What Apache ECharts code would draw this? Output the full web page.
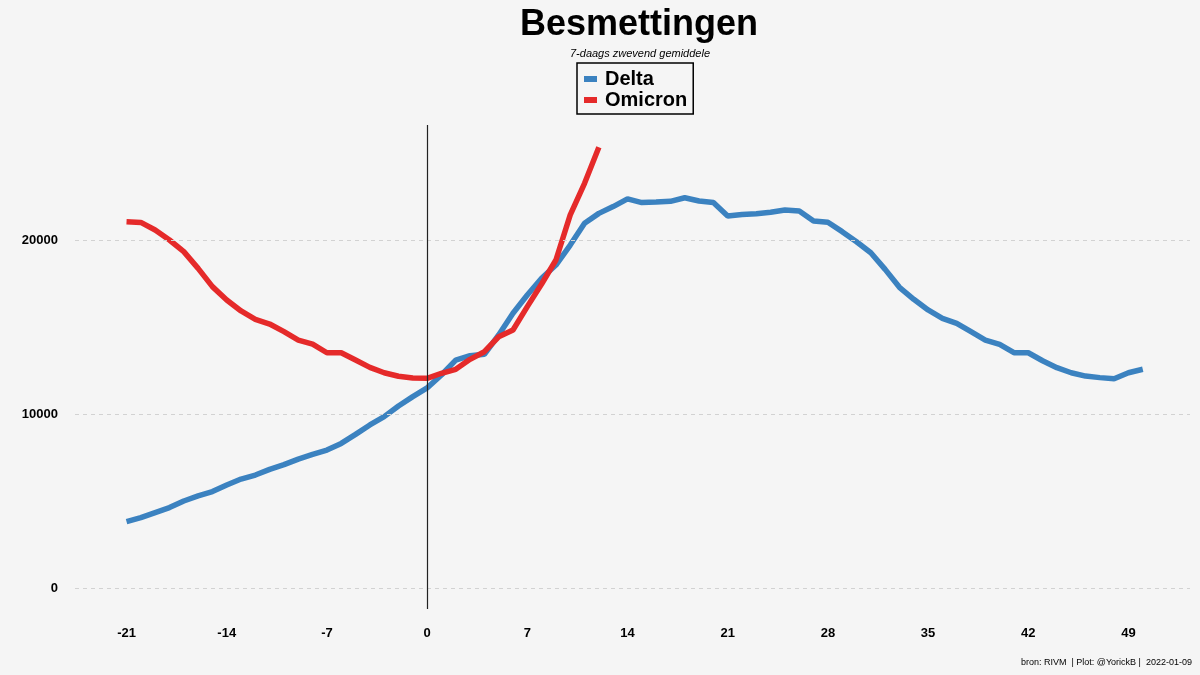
<!DOCTYPE html>
<html><head><meta charset="utf-8">
<script src="https://cdn.jsdelivr.net/npm/echarts@6/dist/echarts.min.js"></script>
<style>html,body{margin:0;padding:0;background:#f5f5f5}#c{width:1200px;height:675px}</style>
</head><body><div id="c"></div>
<script>
const days = [];
for (let d = -21; d <= 50; d++) days.push(d);
const delta = [3810,4040,4330,4620,5000,5290,5540,5920,6260,6490,6820,7090,7410,7680,7930,8310,8830,9370,9850,10460,11000,11500,
  12240,13100,13350,13430,14540,15790,16840,17800,18560,19710,20960,21530,21920,22360,22150,22180,22220,22430,22240,22150,21380,21470,21510,
  21590,21720,21670,21090,21020,20480,19900,19270,18310,17280,16590,15980,15500,15210,14730,14250,14000,13520,13520,13060,12660,12370,12180,12090,12030,12370,12570];
const omicron = [21050,21010,20575,20000,19330,18370,17320,16550,15920,15440,15170,14730,14250,14020,13520,13520,13100,12680,12370,12170,12070,12050,
  12340,12570,13140,13580,14440,14830,16170,17470,18850,21440,23260,25330];
const xTicks = [-21,-14,-7,0,7,14,21,28,35,42,49];
const yTicks = [0,10000,20000];
const title = 'Besmettingen';
const subtitle = '7-daags zwevend gemiddele';
const footer = 'bron: RIVM  | Plot: @YorickB |  2022-01-09';

const deltaData = days.map((d,i)=>[d, delta[i]]).filter(p=>p[1]!=null);
const omiData = omicron.map((v,i)=>[days[i], v]);

const chart = echarts.init(document.getElementById('c'));
chart.setOption({
  backgroundColor:'#f5f5f5',
  animation:false,
  title:[
    {text:title,left:634,textAlign:'center',top:2,textStyle:{fontFamily:'Liberation Sans',fontWeight:'bold',fontSize:36,color:'#000'}},
    {text:subtitle,left:635,textAlign:'center',top:43,textStyle:{fontFamily:'Liberation Sans',fontStyle:'italic',fontWeight:'normal',fontSize:11,color:'#000'}},
    {text:footer,right:3,bottom:3,textStyle:{fontFamily:'Liberation Sans',fontWeight:'normal',fontSize:9,color:'#000'}}
  ],
  legend:{
    data:['Delta','Omicron'],
    orient:'vertical',
    left:577, top:63,
    padding:[6,6,4,7],
    itemGap:1,
    itemWidth:13, itemHeight:6,
    borderColor:'#000', borderWidth:1.5, borderRadius:0,
    backgroundColor:'#f5f5f5',
    icon:'rect',
    textStyle:{fontFamily:'Liberation Sans',fontWeight:'bold',fontSize:20,color:'#000',padding:[0,0,0,3]}
  },
  grid:{left:75,right:10,top:125,bottom:66,containLabel:false},
  xAxis:{
    type:'value', min:-24.6, max:53.3,
    axisLine:{show:false}, axisTick:{show:false}, splitLine:{show:false},
    axisLabel:{customValues:xTicks, margin:18, formatter:v=>String(v), fontFamily:'Liberation Sans', fontWeight:'bold', fontSize:13, color:'#000'}
  },
  yAxis:{
    type:'value', min:-1207, max:26609,
    axisLine:{show:false}, axisTick:{show:false}, splitLine:{show:false},
    axisLabel:{customValues:yTicks, margin:17, formatter:v=>String(v), fontFamily:'Liberation Sans', fontWeight:'bold', fontSize:13, color:'#000'}
  },
  series:[
    {type:'line', name:'grid', data:[], z:1, silent:true,
     markLine:{silent:true, symbol:'none', label:{show:false},
       lineStyle:{color:'#d2d2d2', type:[4,4], width:1},
       data:yTicks.map(v=>({yAxis:v}))}},
    {type:'line', name:'Delta', data:deltaData, showSymbol:false, z:3,
     lineStyle:{color:'#3b82c0', width:5.5}, itemStyle:{color:'#3b82c0'}},
    {type:'line', name:'Omicron', data:omiData, showSymbol:false, z:4,
     lineStyle:{color:'#e52a2a', width:5.5}, itemStyle:{color:'#e52a2a'}},
    {type:'line', name:'vline', data:[], z:5, silent:true,
     markLine:{silent:true, symbol:'none', label:{show:false},
       lineStyle:{color:'#222', type:'solid', width:1.2},
       data:[{xAxis:0}]}}
  ]
});
</script></body></html>
